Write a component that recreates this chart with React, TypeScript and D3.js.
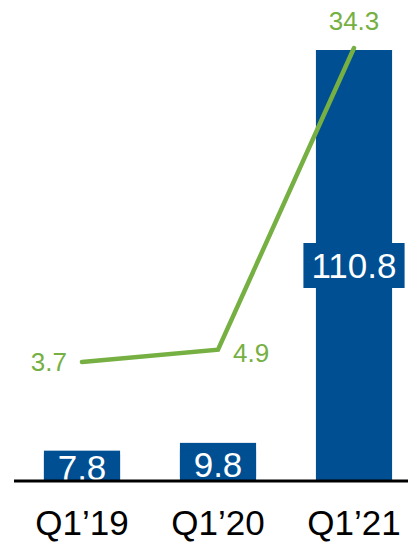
import React from "react";
import * as d3 from "d3";

const categories = ["Q1\u201919", "Q1\u201920", "Q1\u201921"];
const barValues = [7.8, 9.8, 110.8];
const lineValues = [3.7, 4.9, 34.3];

const W = 408;
const H = 543;
const BLUE = "#004F93";
const GREEN = "#76B043";
const FONT = "'Liberation Sans', Arial, sans-serif";

export default function App() {
  const baseline = 481;
  const x = d3
    .scaleBand<string>()
    .domain(categories)
    .range([14, 422])
    .paddingInner(0.44)
    .paddingOuter(0.22);
  const y = d3.scaleLinear().domain([0, 110.8]).range([baseline, 50]);
  const y2 = d3.scaleLinear().domain([0, 34.3]).range([400, 48]);
  const bw = x.bandwidth();
  const cx = (c: string) => (x(c) as number) + bw / 2;

  const line = d3
    .line<number>()
    .x((_, i) => cx(categories[i]))
    .y((d) => y2(d));

  return (
    <svg
      width={W}
      height={H}
      style={{ position: "absolute", left: 0, top: 0 }}
      fontFamily={FONT}
    >
      {categories.map((c, i) => (
        <rect
          key={c}
          x={x(c)}
          y={y(barValues[i])}
          width={bw}
          height={baseline - y(barValues[i])}
          fill={BLUE}
        />
      ))}
      {categories.map((c, i) => {
        const big = barValues[i] > 50;
        const mid = (y(barValues[i]) + baseline) / 2 + (big ? 0 : 2);
        const bwBox = big ? bw + 25 : bw;
        const bh = big ? 45 : 27;
        return (
          <g key={c + "lbl"}>
            <rect x={cx(c) - bwBox / 2} y={mid - bh / 2} width={bwBox} height={bh} fill={BLUE} />
            <text
              x={cx(c)}
              y={mid}
              dy="0.36em"
              textAnchor="middle"
              fill="#fff"
              fontSize={35}
            >
              {barValues[i]}
            </text>
          </g>
        );
      })}
      <line x1={14} x2={408} y1={baseline} y2={baseline} stroke="#000" strokeWidth={3} />
      <path d={line(lineValues) || ""} fill="none" stroke={GREEN} strokeWidth={4.5} strokeLinecap="round" />
      {lineValues.map((v, i) => {
        const px = cx(categories[i]);
        const py = y2(v);
        let tx = px, ty = py, anchor = "middle";
        if (i === 0) { tx = px - 15; ty = py + 9; anchor = "end"; }
        else if (i === lineValues.length - 1) { ty = py - 18; }
        else { tx = px + 15; ty = py + 12; anchor = "start"; }
        return (
          <text key={"l" + i} x={tx} y={ty} textAnchor={anchor} fill={GREEN} fontSize={26}>
            {v}
          </text>
        );
      })}
      {categories.map((c) => (
        <text key={c + "ax"} x={cx(c)} y={535} textAnchor="middle" fill="#000" fontSize={35}>
          {c}
        </text>
      ))}
    </svg>
  );
}
